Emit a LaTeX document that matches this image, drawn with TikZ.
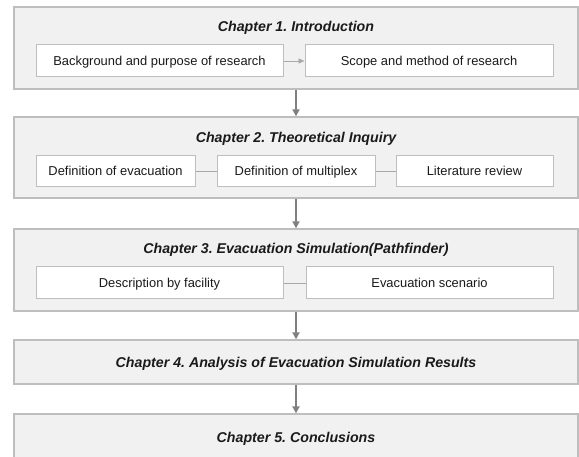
\documentclass[tikz,border=0pt]{standalone}
\usepackage{fontspec}
\setmainfont{Liberation Sans}
\usetikzlibrary{arrows.meta}
\definecolor{outerfill}{HTML}{F1F1F1}
\definecolor{outerline}{HTML}{BEBEBE}
\definecolor{innerline}{HTML}{BEBEBE}
\definecolor{arrowc}{HTML}{808080}
\definecolor{linkc}{HTML}{A8A8A8}
\definecolor{txt}{HTML}{1A1A1A}
\frenchspacing
\tikzset{
  chapbox/.style={draw=outerline, fill=outerfill, line width=1.3pt, minimum width=564pt, inner sep=0pt},
  chaptitle/.style={font=\fontsize{14.2}{16}\selectfont\bfseries\itshape, text=txt, inner sep=0pt,
    text height=10.2pt, text depth=0pt},
  itembox/.style={draw=innerline, fill=white, line width=1pt, minimum height=31pt, inner sep=0pt,
    font=\fontsize{12.9}{15}\selectfont, text=txt, text height=9.2pt, text depth=0pt},
  flow/.style={draw=arrowc, line width=2pt, -{Triangle[length=7pt,width=7pt]}},
  link/.style={draw=linkc, line width=0.9pt},
}
\begin{document}
\begin{tikzpicture}[x=1pt,y=-1pt]
\useasboundingbox (0,0) rectangle (579,457);
\begin{scope}
\clip (0,0) rectangle (579,457);
% chapter boxes
\node[chapbox, minimum height=82pt] (c1) at (296,48) {};
\node[chapbox, minimum height=81pt] (c2) at (296,157.5) {};
\node[chapbox, minimum height=82pt] (c3) at (296,270) {};
\node[chapbox, minimum height=44pt] (c4) at (296,362) {};
\node[chapbox, minimum height=54pt] (c5) at (296,441) {};
\end{scope}
% titles
\node[chaptitle] (t1) at (296,26) {Chapter 1. Introduction};
\node[chaptitle] (t2) at (296,137) {Chapter 2. Theoretical Inquiry};
\node[chaptitle] (t3) at (296,248) {Chapter 3. Evacuation Simulation(Pathfinder)};
\node[chaptitle] (t4) at (296,362) {Chapter 4. Analysis of Evacuation Simulation Results};
\node[chaptitle] (t5) at (296,437) {Chapter 5. Conclusions};
% chapter 1 items
\node[itembox, minimum width=247pt, minimum height=32pt] (b11) at (159.5,61) {Background and purpose of research};
\node[itembox, minimum width=248pt, minimum height=32pt] (b12) at (429,61) {Scope and method of research};
% chapter 2 items
\node[itembox, minimum width=159pt] (b21) at (115.5,171) {Definition of evacuation};
\node[itembox, minimum width=158pt] (b22) at (296,171) {Definition of multiplex};
\node[itembox, minimum width=157pt] (b23) at (474.5,171) {Literature review};
% chapter 3 items
\node[itembox, minimum width=247pt, minimum height=32pt] (b31) at (159.5,283) {Description by facility};
\node[itembox, minimum width=247pt, minimum height=32pt] (b32) at (429.5,283) {Evacuation scenario};
% links
\draw[link, -{Triangle[length=6pt,width=5pt]}] (b11.east) -- (b12.west);
\draw[link] (b21.east) -- (b22.west);
\draw[link] (b22.east) -- (b23.west);
\draw[link] (b31.east) -- (b32.west);
% flow arrows
\draw[flow] (c1.south) -- (c2.north);
\draw[flow] (c2.south) -- (c3.north);
\draw[flow] (c3.south) -- (c4.north);
\draw[flow] (c4.south) -- (c5.north);
\end{tikzpicture}
\end{document}
